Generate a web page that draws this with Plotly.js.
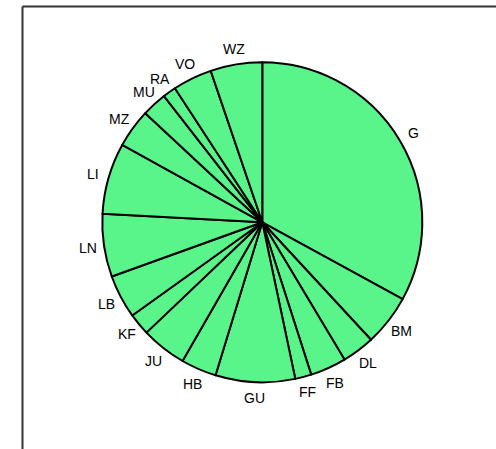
<!DOCTYPE html>
<html>
<head>
<meta charset="utf-8">
<script src="https://cdn.plot.ly/plotly-3.0.1.min.js"></script>
<style>html,body{margin:0;padding:0;background:#fff;}#chart{width:496px;height:449px;}</style>
</head>
<body>
<div id="chart"></div>
<script>
// Slice labels and their sizes (in degrees of the full circle)
var labels = ["G", "BM", "DL", "FB", "FF", "GU", "HB", "JU", "KF", "LB", "LN", "LI", "MZ", "MU", "RA", "VO", "WZ"];
var values = [118.7, 18.5, 11.9, 13.1, 5.9, 28.9, 12.9, 16.5, 8.0, 15.8, 22.9, 25.8, 14.1, 9.1, 4.8, 14.3, 18.8];

var W = 496, H = 449;
var cxPx = 262.3, cyPx = 222.3, rPx = 160;
var domX = [(cxPx - rPx) / W, (cxPx + rPx) / W];
var domY = [1 - (cyPx + rPx) / H, 1 - (cyPx - rPx) / H];

var total = values.reduce(function (a, b) { return a + b; }, 0);
var annotations = [];
var cum = 0;
for (var i = 0; i < values.length; i++) {
  var mid = (cum + values[i] / 2) / total * 2 * Math.PI;
  cum += values[i];
  var lx = cxPx + 1.1 * rPx * Math.sin(mid);
  var ly = cyPx - 1.1 * rPx * Math.cos(mid);
  annotations.push({
    x: lx / W, y: 1 - ly / H, xref: 'paper', yref: 'paper',
    text: labels[i], showarrow: false, xanchor: 'center', yanchor: 'middle',
    font: {family: 'Liberation Sans, Arial, sans-serif', size: 14, color: '#000'}
  });
}

var trace = {
  type: 'pie',
  labels: labels,
  values: values,
  sort: false,
  direction: 'clockwise',
  rotation: 0,
  textinfo: 'none',
  hoverinfo: 'label+value',
  marker: {colors: labels.map(function () { return '#5AF58A'; }), line: {color: '#000', width: 2}},
  domain: {x: domX, y: domY},
  showlegend: false
};

var frameX = 22.5 / W, frameY = 1 - 6.5 / H;
var layout = {
  width: W, height: H,
  margin: {l: 0, r: 0, t: 0, b: 0},
  paper_bgcolor: '#fff',
  showlegend: false,
  annotations: annotations,
  shapes: [
    {type: 'line', xref: 'paper', yref: 'paper', x0: frameX, x1: 1.02, y0: frameY, y1: frameY, line: {color: '#333', width: 2}},
    {type: 'line', xref: 'paper', yref: 'paper', x0: frameX, x1: frameX, y0: -0.02, y1: frameY, line: {color: '#333', width: 2}}
  ]
};

Plotly.newPlot('chart', [trace], layout, {displayModeBar: false, staticPlot: true});
</script>
</body>
</html>
